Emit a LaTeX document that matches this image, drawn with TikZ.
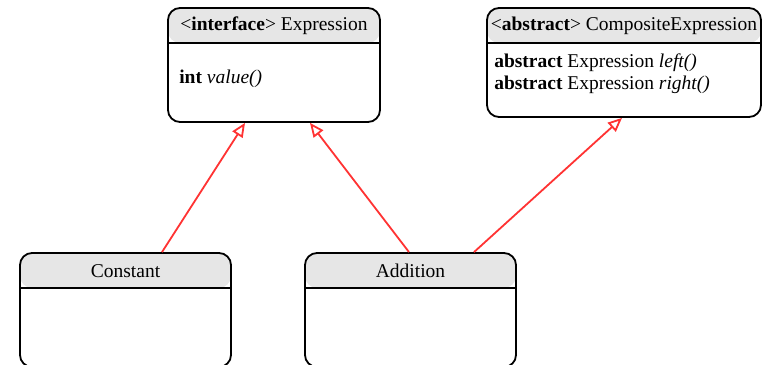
\documentclass[tikz,border=0pt]{standalone}
\usepackage{fontspec}
\setmainfont{Liberation Serif}
\usetikzlibrary{arrows.meta, positioning}
\definecolor{linkred}{HTML}{FF3333}
\definecolor{headgray}{HTML}{E6E6E6}
\tikzset{
  classbox/.style={draw, line width=1.8pt, rounded corners=12pt, inner sep=0pt, minimum height=114pt,
    path picture={
      \fill[headgray] (path picture bounding box.north west) rectangle ([yshift=-35pt]path picture bounding box.north east);
      \draw[line width=1.8pt] ([yshift=-35pt]path picture bounding box.north west) -- ([yshift=-35pt]path picture bounding box.north east);
    }},
  classtext/.style={font=\fontsize{19.5pt}{22pt}\selectfont, inner sep=0pt},
  inherit/.style={draw=linkred, line width=1.8pt, -{Triangle[open, length=14pt, width=12pt, fill=white]}},
}

\begin{document}
\begin{tikzpicture}[x=1pt, y=-1pt]
  \clip (0,0) rectangle (765,364);
  % classes
  \node[classbox, minimum width=212pt] (expr) at (274,65) {};
  \node[classbox, minimum width=274pt, minimum height=109pt] (comp) at (624,62.5) {};
  \node[classbox, minimum width=211pt] (const) at (125.5,310) {};
  \node[classbox, minimum width=211pt] (add) at (410.5,310) {};
  % headers
  \node[classtext] (exprhead) at ([yshift=-19pt]expr.north) {<\textbf{interface}> Expression};
  \node[classtext] (comphead) at ([yshift=-19pt]comp.north) {<\textbf{abstract}> CompositeExpression};
  \node[classtext] (consthead) at ([yshift=-19pt]const.north) {Constant};
  \node[classtext] (addhead) at ([yshift=-19pt]add.north) {Addition};
  % members
  \node[classtext, anchor=west] (exprops) at ([xshift=12pt, yshift=-14pt]expr.west) {\textbf{int} \textit{value()}};
  \node[classtext, anchor=west, align=left] (compops) at ([xshift=8pt, yshift=-11.5pt]comp.west)
    {\textbf{abstract} Expression \textit{left()}\\ \textbf{abstract} Expression \textit{right()}};
  % generalisation
  \draw[inherit] ([xshift=36.5pt]const.north) -- ([xshift=-29pt]expr.south);
  \draw[inherit] ([xshift=-1.5pt]add.north) -- ([xshift=36pt]expr.south);
  \draw[inherit] ([xshift=63.5pt]add.north) -- ([xshift=-2pt]comp.south);
\end{tikzpicture}
\end{document}
